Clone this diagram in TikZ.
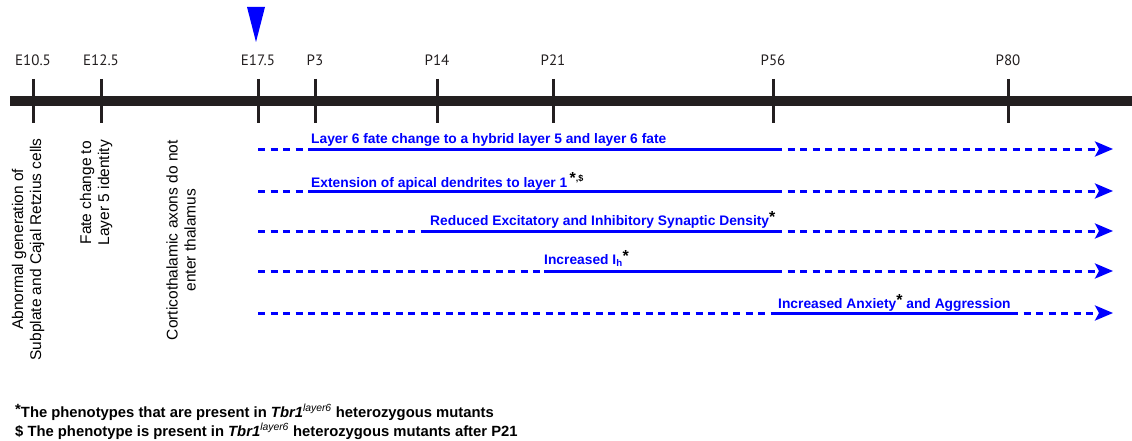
\documentclass[tikz,border=0pt]{standalone}
\usepackage{fontspec}
\setmainfont{Liberation Sans}
\newfontfamily\tickfont{PT Sans}
\usetikzlibrary{arrows.meta}
\definecolor{barblack}{RGB}{35,31,32}
\definecolor{phblue}{RGB}{0,0,255}
\newcommand{\blkstar}{{\color{black}\raisebox{3pt}{\fontsize{16}{16}\selectfont *}}}

\begin{document}
\begin{tikzpicture}[x=1pt,y=-1pt,
  tickline/.style={barblack, line width=3pt},
  ticklabel/.style={font=\tickfont\fontsize{15}{15}\selectfont, text=barblack, anchor=base},
  event/.style={font=\fontsize{15.5}{18}\selectfont, rotate=90, anchor=east, align=center, inner sep=0pt},
  solidline/.style={phblue, line width=3pt},
  dashline/.style={phblue, line width=3pt, dash pattern=on 7pt off 5.5pt},
  phlabel/.style={font=\bfseries\fontsize{13.8}{13.8}\selectfont, text=phblue, anchor=base west, inner sep=0pt},
  note/.style={font=\bfseries\fontsize{14.8}{14.8}\selectfont, anchor=base west, inner sep=0pt}]
\useasboundingbox (0,0) rectangle (1132,441);

% Timeline bar
\coordinate (barL) at (10,101);
\coordinate (barR) at (1132,101);
\draw[barblack, line width=10pt] (barL) -- (barR);

% Ticks and ages
\foreach \x/\age/\nm in {33/E10.5/e105, 101/E12.5/e125, 258/E17.5/e175, 315/P3/p3,
    437/P14/p14, 553/P21/p21, 773/P56/p56, 1008/P80/p80} {
  \draw[tickline] (\x,79) -- (\x,123);
  \node[ticklabel] (\nm) at (\x,66) {\age};
}

% Marker at E17.5
\fill[phblue] (247,7) -- (265,7) -- (256,42) -- cycle;

% Embryonic events
\node[event] (subplate) at (28,138) {Abnormal generation of\\Subplate and Cajal Retzius cells};
\node[event] (fate5) at (96,140) {Fate change to\\Layer 5 identity};
\node[event] (axons) at (181,140) {Corticothalamic axons do not\\enter thalamus};

% Phenotype rows: dashed lead-in, solid period, dashed arrow onwards
\foreach \r/\y/\a/\b in {1/149/311/775, 2/191/311/775, 3/231/427/775,
    4/271/544/775, 5/313/778/1011} {
  \coordinate (s\r) at (258,\y);
  \coordinate (a\r) at (\a,\y);
  \coordinate (b\r) at (\b,\y);
  \coordinate (t\r) at (1113,\y);
  \draw[dashline] (s\r) -- (a\r);
  \draw[solidline] (a\r) -- (b\r);
  \draw[dashline, -{Stealth[length=18pt, width=15pt, inset=4pt]}] (b\r) -- (t\r);
}

% Phenotype labels
\node[phlabel] (hybrid) at ([yshift=6pt]a1) {Layer 6 fate change to a hybrid layer 5 and layer 6 fate};
\node[phlabel] (apical) at ([yshift=4pt]a2) {Extension of apical dendrites to layer 1\,{\color{black}\raisebox{4pt}{\fontsize{16}{16}\selectfont *}\raisebox{6pt}{\fontsize{9}{9}\selectfont ,\$}}};
\node[phlabel] (synaptic) at ([yshift=6pt,xshift=3pt]a3) {Reduced Excitatory and Inhibitory Synaptic Density\blkstar};
\node[phlabel] (ih) at ([yshift=7pt]a4) {Increased I\textsubscript{h}\blkstar};
\node[phlabel] (anxiety) at ([yshift=5pt]a5) {Increased Anxiety\blkstar{} and Aggression};

% Footnotes
\node[note] (note1) at (15,417) {\raisebox{3pt}{*}The phenotypes that are present in \textit{Tbr1}\textsuperscript{\textit{\mdseries layer6}} heterozygous mutants};
\node[note] (note2) at (15,436) {\$ The phenotype is present in \textit{Tbr1}\textsuperscript{\textit{\mdseries layer6}} heterozygous mutants after P21};
\end{tikzpicture}
\end{document}
